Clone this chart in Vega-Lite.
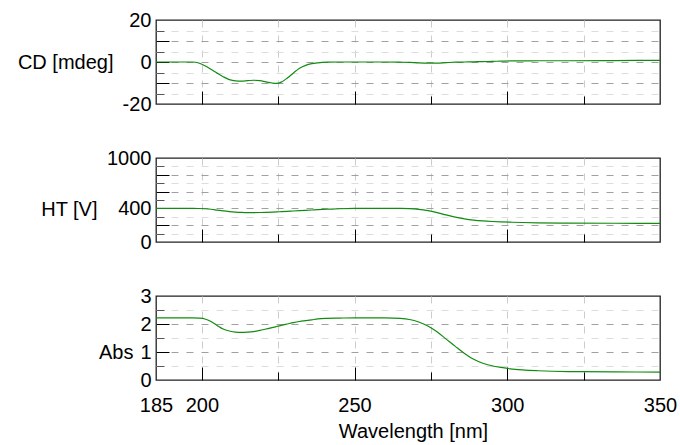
{
  "$schema": "https://vega.github.io/schema/vega-lite/v6.json",
  "autosize": {"type": "none"},
  "padding": {"left": 156, "top": 20, "right": 524, "bottom": 425},
  "background": "white",
  "spacing": 54,
  "bounds": "flush",
  "config": {
    "font": "Liberation Sans",
    "view": {"stroke": "#222222", "strokeWidth": 1.3},
    "axis": {
      "labelFont": "Liberation Sans",
      "titleFont": "Liberation Sans",
      "labelFontSize": 20,
      "titleFontSize": 20,
      "labelColor": "black",
      "titleColor": "black",
      "titleFontWeight": "normal",
      "domain": false,
      "labelOverlap": false,
      "labelFlush": false
    }
  },
  "datasets": {
    "spec": [
      {"wl": 185, "cd": 0, "ht": 400, "abs": 2.22},
      {"wl": 190, "cd": 0, "ht": 400, "abs": 2.22},
      {"wl": 195, "cd": 0, "ht": 400, "abs": 2.22},
      {"wl": 197, "cd": 0, "ht": 400, "abs": 2.22},
      {"wl": 199, "cd": -0.5, "ht": 399, "abs": 2.21},
      {"wl": 201, "cd": -1.8, "ht": 396, "abs": 2.18},
      {"wl": 203, "cd": -3.5, "ht": 390, "abs": 2.09},
      {"wl": 205, "cd": -5.3, "ht": 380, "abs": 1.95},
      {"wl": 207, "cd": -7.0, "ht": 370, "abs": 1.82},
      {"wl": 209, "cd": -8.4, "ht": 362, "abs": 1.75},
      {"wl": 211, "cd": -9.0, "ht": 356, "abs": 1.71},
      {"wl": 213, "cd": -9.1, "ht": 352, "abs": 1.70},
      {"wl": 215, "cd": -8.9, "ht": 350, "abs": 1.71},
      {"wl": 217, "cd": -8.7, "ht": 350, "abs": 1.73},
      {"wl": 219, "cd": -8.9, "ht": 351, "abs": 1.77},
      {"wl": 221, "cd": -9.5, "ht": 353, "abs": 1.82},
      {"wl": 223, "cd": -10.0, "ht": 356, "abs": 1.87},
      {"wl": 224.5, "cd": -10.2, "ht": 358, "abs": 1.91},
      {"wl": 226, "cd": -9.6, "ht": 361, "abs": 1.95},
      {"wl": 228, "cd": -7.6, "ht": 365, "abs": 2.00},
      {"wl": 230, "cd": -5.2, "ht": 369, "abs": 2.05},
      {"wl": 232, "cd": -3.0, "ht": 373, "abs": 2.09},
      {"wl": 234, "cd": -1.6, "ht": 377, "abs": 2.12},
      {"wl": 236, "cd": -0.8, "ht": 381, "abs": 2.15},
      {"wl": 238, "cd": -0.4, "ht": 385, "abs": 2.18},
      {"wl": 241, "cd": -0.1, "ht": 390, "abs": 2.20},
      {"wl": 245, "cd": 0, "ht": 396, "abs": 2.21},
      {"wl": 250, "cd": 0, "ht": 400, "abs": 2.22},
      {"wl": 260, "cd": 0, "ht": 401, "abs": 2.22},
      {"wl": 265, "cd": -0.1, "ht": 401, "abs": 2.20},
      {"wl": 268, "cd": -0.2, "ht": 398, "abs": 2.16},
      {"wl": 271, "cd": -0.4, "ht": 389, "abs": 2.07},
      {"wl": 274, "cd": -0.5, "ht": 373, "abs": 1.93},
      {"wl": 277, "cd": -0.5, "ht": 350, "abs": 1.72},
      {"wl": 280, "cd": -0.3, "ht": 322, "abs": 1.46},
      {"wl": 283, "cd": -0.1, "ht": 297, "abs": 1.20},
      {"wl": 286, "cd": 0, "ht": 276, "abs": 0.95},
      {"wl": 289, "cd": 0.1, "ht": 261, "abs": 0.74},
      {"wl": 292, "cd": 0.2, "ht": 251, "abs": 0.60},
      {"wl": 295, "cd": 0.3, "ht": 244, "abs": 0.51},
      {"wl": 298, "cd": 0.4, "ht": 239, "abs": 0.45},
      {"wl": 301, "cd": 0.5, "ht": 236, "abs": 0.40},
      {"wl": 305, "cd": 0.5, "ht": 232, "abs": 0.36},
      {"wl": 310, "cd": 0.6, "ht": 228, "abs": 0.33},
      {"wl": 320, "cd": 0.6, "ht": 225, "abs": 0.30},
      {"wl": 335, "cd": 0.7, "ht": 223, "abs": 0.29},
      {"wl": 350, "cd": 0.8, "ht": 222, "abs": 0.28}
    ]
  },
  "data": {"name": "spec"},
  "vconcat": [
    {
      "width": 504,
      "height": 84,
      "mark": {"type": "line", "color": "#118c11", "strokeWidth": 1.2, "interpolate": "monotone"},
      "encoding": {
        "x": {
          "field": "wl", "type": "quantitative",
          "scale": {"domain": [185, 350], "nice": false, "zero": false},
          "axis": {
            "values": [185, 200, 225, 250, 275, 300, 325, 350],
            "labels": false, "title": null,
            "grid": true, "gridColor": "#cccccc", "gridDash": [7, 8],
            "gridOpacity": {"condition": {"test": "datum.value == 185 || datum.value == 350", "value": 0}, "value": 1},
            "tickColor": "black",
            "tickOpacity": {"condition": {"test": "datum.value == 185 || datum.value == 350", "value": 0}, "value": 1},
            "tickSize": {"condition": {"test": "datum.value == 225 || datum.value == 275 || datum.value == 325", "value": -8}, "value": -13}
          }
        },
        "y": {
          "field": "cd", "type": "quantitative",
          "scale": {"domain": [-20, 20], "nice": false, "zero": false},
          "axis": {
            "values": [-20, -15, -10, -5, 0, 5, 10, 15, 20],
            "labelExpr": "datum.value % 20 === 0 ? '' + datum.value : ''",
            "labelPadding": 18,
            "title": "CD [mdeg]", "titleAngle": 0, "titleAlign": "right", "titleBaseline": "middle",
            "titleX": -43, "titleY": 42,
            "grid": true, "gridDash": [7, 8],
            "gridColor": {"condition": {"test": "datum.value % 10 === 0", "value": "#a0a0a0"}, "value": "#dddddd"},
            "gridOpacity": {"condition": {"test": "abs(datum.value) == 20", "value": 0}, "value": 1},
            "tickColor": {"condition": {"test": "datum.value % 10 === 0", "value": "black"}, "value": "#555555"},
            "tickOpacity": {"condition": {"test": "abs(datum.value) == 20", "value": 0}, "value": 1},
            "tickSize": {"condition": {"test": "datum.value % 10 === 0", "value": -13}, "value": -8}
          }
        }
      }
    },
    {
      "width": 504,
      "height": 84,
      "mark": {"type": "line", "color": "#118c11", "strokeWidth": 1.2, "interpolate": "monotone"},
      "encoding": {
        "x": {
          "field": "wl", "type": "quantitative",
          "scale": {"domain": [185, 350], "nice": false, "zero": false},
          "axis": {
            "values": [185, 200, 225, 250, 275, 300, 325, 350],
            "labels": false, "title": null,
            "grid": true, "gridColor": "#cccccc", "gridDash": [7, 8],
            "gridOpacity": {"condition": {"test": "datum.value == 185 || datum.value == 350", "value": 0}, "value": 1},
            "tickColor": "black",
            "tickOpacity": {"condition": {"test": "datum.value == 185 || datum.value == 350", "value": 0}, "value": 1},
            "tickSize": {"condition": {"test": "datum.value == 225 || datum.value == 275 || datum.value == 325", "value": -8}, "value": -13}
          }
        },
        "y": {
          "field": "ht", "type": "quantitative",
          "scale": {"domain": [0, 1000], "nice": false},
          "axis": {
            "values": [0, 100, 200, 300, 400, 500, 600, 700, 800, 900, 1000],
            "labelExpr": "datum.value == 0 || datum.value == 400 || datum.value == 1000 ? '' + datum.value : ''",
            "labelPadding": 18,
            "title": "HT [V]", "titleAngle": 0, "titleAlign": "right", "titleBaseline": "middle",
            "titleX": -59, "titleY": 51,
            "grid": true, "gridDash": [7, 8],
            "gridColor": {"condition": {"test": "datum.value % 200 === 0", "value": "#a0a0a0"}, "value": "#dddddd"},
            "gridOpacity": {"condition": {"test": "datum.value == 0 || datum.value == 1000", "value": 0}, "value": 1},
            "tickColor": {"condition": {"test": "datum.value % 200 === 0", "value": "black"}, "value": "#555555"},
            "tickOpacity": {"condition": {"test": "datum.value == 0 || datum.value == 1000", "value": 0}, "value": 1},
            "tickSize": {"condition": {"test": "datum.value % 200 === 0", "value": -13}, "value": -8}
          }
        }
      }
    },
    {
      "width": 504,
      "height": 84,
      "mark": {"type": "line", "color": "#118c11", "strokeWidth": 1.2, "interpolate": "monotone"},
      "encoding": {
        "x": {
          "field": "wl", "type": "quantitative",
          "scale": {"domain": [185, 350], "nice": false, "zero": false},
          "axis": {
            "values": [185, 200, 225, 250, 275, 300, 325, 350],
            "labelExpr": "datum.value == 225 || datum.value == 275 || datum.value == 325 ? '' : '' + datum.value",
            "labelPadding": 28,
            "title": "Wavelength [nm]", "titleX": 257, "titleY": 57, "titleBaseline": "alphabetic",
            "grid": true, "gridColor": "#cccccc", "gridDash": [7, 8],
            "gridOpacity": {"condition": {"test": "datum.value == 185 || datum.value == 350", "value": 0}, "value": 1},
            "tickColor": "black",
            "tickOpacity": {"condition": {"test": "datum.value == 185 || datum.value == 350", "value": 0}, "value": 1},
            "tickSize": {"condition": {"test": "datum.value == 225 || datum.value == 275 || datum.value == 325", "value": -8}, "value": -13}
          }
        },
        "y": {
          "field": "abs", "type": "quantitative",
          "scale": {"domain": [0, 3], "nice": false},
          "axis": {
            "values": [0, 0.5, 1, 1.5, 2, 2.5, 3],
            "labelExpr": "datum.value % 1 === 0 ? '' + datum.value : ''",
            "labelPadding": 18,
            "title": "Abs", "titleAngle": 0, "titleAlign": "right", "titleBaseline": "middle",
            "titleX": -23, "titleY": 56,
            "grid": true, "gridDash": [7, 8],
            "gridColor": {"condition": {"test": "datum.value % 1 === 0", "value": "#a0a0a0"}, "value": "#dddddd"},
            "gridOpacity": {"condition": {"test": "datum.value == 0 || datum.value == 3", "value": 0}, "value": 1},
            "tickColor": {"condition": {"test": "datum.value % 1 === 0", "value": "black"}, "value": "#555555"},
            "tickOpacity": {"condition": {"test": "datum.value == 0 || datum.value == 3", "value": 0}, "value": 1},
            "tickSize": {"condition": {"test": "datum.value % 1 === 0", "value": -13}, "value": -8}
          }
        }
      }
    }
  ]
}
